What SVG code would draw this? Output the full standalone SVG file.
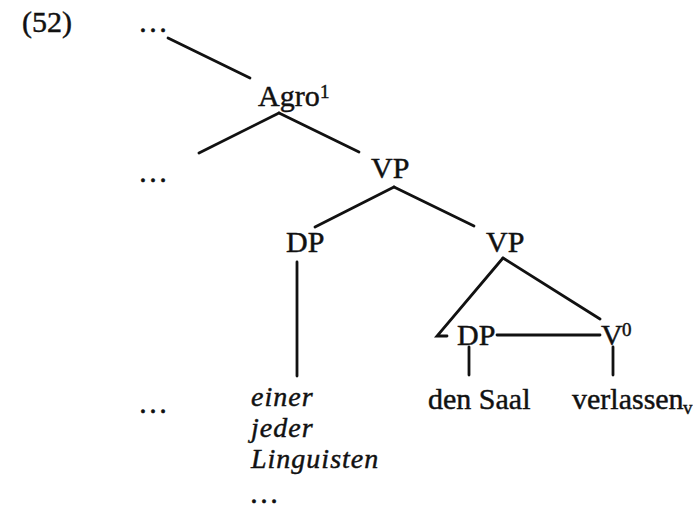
<svg xmlns="http://www.w3.org/2000/svg" width="693" height="508" viewBox="0 0 693 508">
  <style>
    text { font-family: "Liberation Serif", "Times New Roman", serif; font-size: 30px; fill: #111; stroke: #111; stroke-width: 0.45; }
    .it { font-style: italic; font-size: 28px; letter-spacing: 1px; }
    .sup { font-size: 19px; }
    .edge { stroke: #111; stroke-width: 2.8; stroke-linecap: round; fill: none; }
  </style>
  <rect width="693" height="508" fill="#fff"/>

  <!-- example number -->
  <text x="22" y="32">(52)</text>

  <!-- tree branches -->
  <g id="connectors" class="edge">
    <line x1="168" y1="38" x2="250" y2="78"/>
    <line x1="279" y1="113" x2="199" y2="153"/>
    <line x1="279" y1="113" x2="359" y2="152"/>
    <line x1="394" y1="187" x2="315" y2="227"/>
    <line x1="394" y1="187" x2="474" y2="226"/>
    <line x1="297" y1="262" x2="297" y2="376"/>
    <polyline points="503,258 437,336 447,336"/>
    <line x1="503" y1="258" x2="600" y2="319"/>
    <line x1="497" y1="335" x2="600" y2="335"/>
    <line x1="469" y1="347" x2="469" y2="375"/>
    <line x1="613" y1="347" x2="613" y2="375"/>
  </g>

  <!-- nodes -->
  <g id="dots-top"><text x="138" y="32">…</text></g>
  <g id="agro"><text x="258" y="106">Agro</text><text class="sup" x="320" y="98">1</text></g>
  <g id="dots-left"><text x="138" y="182">…</text></g>
  <g id="vp1"><text x="371" y="178">VP</text></g>
  <g id="dp1"><text x="286" y="252">DP</text></g>
  <g id="vp2"><text x="486" y="252">VP</text></g>
  <g id="dp2"><text x="457" y="345">DP</text></g>
  <g id="v0"><text x="601" y="345">V</text><text class="sup" x="622" y="336">0</text></g>
  <g id="den-saal"><text x="428" y="409">den Saal</text></g>
  <g id="verlassen"><text x="572" y="409">verlassen</text><text class="sup" x="683" y="414">v</text></g>
  <g id="dots-bottom"><text x="138" y="413">…</text></g>
  <g id="quantifiers">
    <text class="it" x="251" y="406">einer</text>
    <text class="it" x="251" y="437">jeder</text>
    <text class="it" x="251" y="468">Linguisten</text>
    <text x="249" y="503">…</text>
  </g>
</svg>
